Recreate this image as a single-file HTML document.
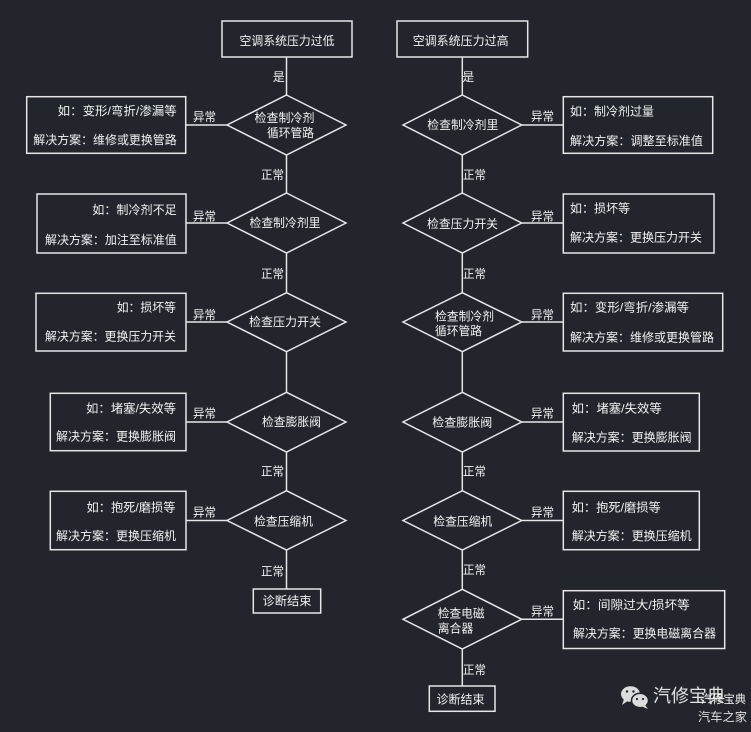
<!DOCTYPE html>
<html>
<head>
<meta charset="utf-8">
<style>
  html,body{margin:0;padding:0;background:#22252c;}
  svg{display:block;}
  text{font-family:"Liberation Sans","Noto Sans CJK SC",sans-serif;font-size:12px;fill:#f2f2f2;dominant-baseline:central;}
</style>
</head>
<body>
<svg width="751" height="732" viewBox="0 0 751 732" xmlns="http://www.w3.org/2000/svg">
  <rect x="0" y="0" width="751" height="732" fill="#22252c"/>

  <g stroke="#e6e6e6" stroke-width="1.5" fill="none">
    <!-- LEFT COLUMN -->
    <rect x="222" y="21" width="130" height="36"/>
    <line x1="286.5" y1="57" x2="286.5" y2="95"/>
    <polygon points="286.5,95 346,125 286.5,155 227,125"/>
    <rect x="26.7" y="96.7" width="159" height="56.6"/>
    <line x1="186" y1="125" x2="227" y2="125"/>
    <line x1="286.5" y1="155" x2="286.5" y2="193"/>

    <polygon points="286.5,193 346,223 286.5,253 227,223"/>
    <rect x="37" y="194" width="149" height="59"/>
    <line x1="186" y1="223" x2="227" y2="223"/>
    <line x1="286.5" y1="253" x2="286.5" y2="292.7"/>

    <polygon points="286.5,292.7 346,322 286.5,351.7 227,322"/>
    <rect x="36" y="293.3" width="150" height="57.7"/>
    <line x1="186" y1="322" x2="227" y2="322"/>
    <line x1="286.5" y1="351.7" x2="286.5" y2="392.3"/>

    <polygon points="286.5,392.3 346,422 286.5,452 227,422"/>
    <rect x="50.3" y="393.3" width="135.7" height="57.4"/>
    <line x1="186" y1="422" x2="227" y2="422"/>
    <line x1="286.5" y1="452" x2="286.5" y2="490.7"/>

    <polygon points="286.5,490.7 346,520.5 286.5,550 227,520.5"/>
    <rect x="50.3" y="491.3" width="135.7" height="58.4"/>
    <line x1="186" y1="520.5" x2="227" y2="520.5"/>
    <line x1="286.5" y1="550" x2="286.5" y2="589"/>
    <rect x="253.3" y="589" width="67.4" height="24"/>

    <!-- RIGHT COLUMN -->
    <rect x="397" y="21" width="130.7" height="36"/>
    <line x1="462.3" y1="57" x2="462.3" y2="95"/>
    <polygon points="462.3,95 521.7,125 462.3,155 403,125"/>
    <rect x="563.3" y="96.7" width="149.4" height="56.6"/>
    <line x1="521.7" y1="125" x2="563.3" y2="125"/>
    <line x1="462.3" y1="155" x2="462.3" y2="193"/>

    <polygon points="462.3,193 521.7,223 462.3,253 403,223"/>
    <rect x="563.3" y="194" width="150.7" height="59"/>
    <line x1="521.7" y1="223" x2="563.3" y2="223"/>
    <line x1="462.3" y1="253" x2="462.3" y2="292.7"/>

    <polygon points="462.3,292.7 521.7,322 462.3,351.7 403,322"/>
    <rect x="563.3" y="293.3" width="159.4" height="57.7"/>
    <line x1="521.7" y1="322" x2="563.3" y2="322"/>
    <line x1="462.3" y1="351.7" x2="462.3" y2="392.3"/>

    <polygon points="462.3,392.3 521.7,422 462.3,452 403,422"/>
    <rect x="563.3" y="393.3" width="136" height="57.7"/>
    <line x1="521.7" y1="422" x2="563.3" y2="422"/>
    <line x1="462.3" y1="452" x2="462.3" y2="490.7"/>

    <polygon points="462.3,490.7 521.7,520.5 462.3,550 403,520.5"/>
    <rect x="563.3" y="491.3" width="136" height="58.4"/>
    <line x1="521.7" y1="520.5" x2="563.3" y2="520.5"/>
    <line x1="462.3" y1="550" x2="462.3" y2="589.3"/>

    <polygon points="462.3,589.3 521.7,619.3 462.3,649 403,619.3"/>
    <rect x="563.3" y="590.7" width="161.4" height="57.8"/>
    <line x1="521.7" y1="619.3" x2="563.3" y2="619.3"/>
    <line x1="462.3" y1="649" x2="462.3" y2="686"/>
    <rect x="429.3" y="686" width="65.7" height="25.3"/>
  </g>

  <!-- LEFT TEXT -->
  <text x="287" y="41" text-anchor="middle" textLength="95" lengthAdjust="spacingAndGlyphs">空调系统压力过低</text>
  <text x="278.7" y="77" text-anchor="middle">是</text>
  <text x="254.5" y="118" textLength="60" lengthAdjust="spacingAndGlyphs">检查制冷剂</text>
  <text x="267" y="133" textLength="47" lengthAdjust="spacingAndGlyphs">循环管路</text>
  <text x="176.7" y="111" text-anchor="end" textLength="119" lengthAdjust="spacingAndGlyphs">如：变形/弯折/渗漏等</text>
  <text x="176.7" y="140" text-anchor="end" textLength="143.4" lengthAdjust="spacingAndGlyphs">解决方案：维修或更换管路</text>
  <text x="204.5" y="117" text-anchor="middle" textLength="23" lengthAdjust="spacingAndGlyphs">异常</text>
  <text x="272.5" y="175" text-anchor="middle" textLength="23" lengthAdjust="spacingAndGlyphs">正常</text>

  <text x="285" y="223" text-anchor="middle" textLength="71" lengthAdjust="spacingAndGlyphs">检查制冷剂里</text>
  <text x="176.7" y="210" text-anchor="end" textLength="84.4" lengthAdjust="spacingAndGlyphs">如：制冷剂不足</text>
  <text x="176.7" y="240" text-anchor="end" textLength="131.7" lengthAdjust="spacingAndGlyphs">解决方案：加注至标准值</text>
  <text x="204.5" y="216.5" text-anchor="middle" textLength="23" lengthAdjust="spacingAndGlyphs">异常</text>
  <text x="272.5" y="274" text-anchor="middle" textLength="23" lengthAdjust="spacingAndGlyphs">正常</text>

  <text x="285" y="322" text-anchor="middle" textLength="72" lengthAdjust="spacingAndGlyphs">检查压力开关</text>
  <text x="176" y="307.3" text-anchor="end" textLength="59.3" lengthAdjust="spacingAndGlyphs">如：损坏等</text>
  <text x="176" y="336.7" text-anchor="end" textLength="131" lengthAdjust="spacingAndGlyphs">解决方案：更换压力开关</text>
  <text x="204.5" y="315" text-anchor="middle" textLength="23" lengthAdjust="spacingAndGlyphs">异常</text>

  <text x="291.5" y="422" text-anchor="middle" textLength="59" lengthAdjust="spacingAndGlyphs">检查膨胀阀</text>
  <text x="176" y="408.3" text-anchor="end" textLength="90" lengthAdjust="spacingAndGlyphs">如：堵塞/失效等</text>
  <text x="176" y="436.7" text-anchor="end" textLength="120" lengthAdjust="spacingAndGlyphs">解决方案：更换膨胀阀</text>
  <text x="204.5" y="413.3" text-anchor="middle" textLength="23" lengthAdjust="spacingAndGlyphs">异常</text>
  <text x="272.5" y="471.7" text-anchor="middle" textLength="23" lengthAdjust="spacingAndGlyphs">正常</text>

  <text x="283.5" y="521.5" text-anchor="middle" textLength="59" lengthAdjust="spacingAndGlyphs">检查压缩机</text>
  <text x="175.5" y="507.3" text-anchor="end" textLength="89" lengthAdjust="spacingAndGlyphs">如：抱死/磨损等</text>
  <text x="176" y="536" text-anchor="end" textLength="120" lengthAdjust="spacingAndGlyphs">解决方案：更换压缩机</text>
  <text x="204.5" y="512.7" text-anchor="middle" textLength="23" lengthAdjust="spacingAndGlyphs">异常</text>
  <text x="272.5" y="571.7" text-anchor="middle" textLength="23" lengthAdjust="spacingAndGlyphs">正常</text>

  <text x="287" y="601" text-anchor="middle" textLength="49" lengthAdjust="spacingAndGlyphs">诊断结束</text>

  <!-- RIGHT TEXT -->
  <text x="460.7" y="41" text-anchor="middle" textLength="96" lengthAdjust="spacingAndGlyphs">空调系统压力过高</text>
  <text x="468.3" y="77" text-anchor="middle">是</text>
  <text x="462.8" y="125" text-anchor="middle" textLength="71" lengthAdjust="spacingAndGlyphs">检查制冷剂里</text>
  <text x="570" y="111.5" textLength="84" lengthAdjust="spacingAndGlyphs">如：制冷剂过量</text>
  <text x="570" y="141" textLength="133" lengthAdjust="spacingAndGlyphs">解决方案：调整至标准值</text>
  <text x="542.5" y="116.7" text-anchor="middle" textLength="23" lengthAdjust="spacingAndGlyphs">异常</text>
  <text x="474.5" y="175" text-anchor="middle" textLength="23" lengthAdjust="spacingAndGlyphs">正常</text>

  <text x="462.5" y="224" text-anchor="middle" textLength="71" lengthAdjust="spacingAndGlyphs">检查压力开关</text>
  <text x="570" y="208.5" textLength="60" lengthAdjust="spacingAndGlyphs">如：损坏等</text>
  <text x="570" y="237.5" textLength="132" lengthAdjust="spacingAndGlyphs">解决方案：更换压力开关</text>
  <text x="542.5" y="216.5" text-anchor="middle" textLength="23" lengthAdjust="spacingAndGlyphs">异常</text>
  <text x="474.5" y="274" text-anchor="middle" textLength="23" lengthAdjust="spacingAndGlyphs">正常</text>

  <text x="435" y="316.7" textLength="59" lengthAdjust="spacingAndGlyphs">检查制冷剂</text>
  <text x="435" y="331" textLength="47" lengthAdjust="spacingAndGlyphs">循环管路</text>
  <text x="570" y="307.3" textLength="119" lengthAdjust="spacingAndGlyphs">如：变形/弯折/渗漏等</text>
  <text x="570" y="337.3" textLength="144" lengthAdjust="spacingAndGlyphs">解决方案：维修或更换管路</text>
  <text x="542.5" y="315" text-anchor="middle" textLength="23" lengthAdjust="spacingAndGlyphs">异常</text>

  <text x="462.3" y="422.3" text-anchor="middle" textLength="60" lengthAdjust="spacingAndGlyphs">检查膨胀阀</text>
  <text x="571.7" y="408.3" textLength="90" lengthAdjust="spacingAndGlyphs">如：堵塞/失效等</text>
  <text x="571.7" y="437.3" textLength="120" lengthAdjust="spacingAndGlyphs">解决方案：更换膨胀阀</text>
  <text x="542.5" y="413.3" text-anchor="middle" textLength="23" lengthAdjust="spacingAndGlyphs">异常</text>
  <text x="474.5" y="471.7" text-anchor="middle" textLength="23" lengthAdjust="spacingAndGlyphs">正常</text>

  <text x="462.8" y="521.5" text-anchor="middle" textLength="59" lengthAdjust="spacingAndGlyphs">检查压缩机</text>
  <text x="571.7" y="507.3" textLength="89" lengthAdjust="spacingAndGlyphs">如：抱死/磨损等</text>
  <text x="571.7" y="536" textLength="120" lengthAdjust="spacingAndGlyphs">解决方案：更换压缩机</text>
  <text x="542.5" y="512.7" text-anchor="middle" textLength="23" lengthAdjust="spacingAndGlyphs">异常</text>
  <text x="474.5" y="570" text-anchor="middle" textLength="23" lengthAdjust="spacingAndGlyphs">正常</text>

  <text x="437.7" y="613.3" textLength="47" lengthAdjust="spacingAndGlyphs">检查电磁</text>
  <text x="437.7" y="628.3" textLength="35.6" lengthAdjust="spacingAndGlyphs">离合器</text>
  <text x="572.7" y="605" textLength="117" lengthAdjust="spacingAndGlyphs">如：间隙过大/损坏等</text>
  <text x="573" y="633.3" textLength="143" lengthAdjust="spacingAndGlyphs">解决方案：更换电磁离合器</text>
  <text x="542.5" y="611.7" text-anchor="middle" textLength="23" lengthAdjust="spacingAndGlyphs">异常</text>
  <text x="474.5" y="670" text-anchor="middle" textLength="23" lengthAdjust="spacingAndGlyphs">正常</text>

  <text x="460.5" y="699.5" text-anchor="middle" textLength="48" lengthAdjust="spacingAndGlyphs">诊断结束</text>

  <!-- WATERMARK -->
  <g>
    <ellipse cx="630.5" cy="694" rx="9.5" ry="7.8" fill="#dcdcdc"/>
    <polygon points="624,699 622,705 629,700" fill="#dcdcdc"/>
    <circle cx="627" cy="691.5" r="1.2" fill="#22252c"/>
    <circle cx="633.5" cy="691.5" r="1.2" fill="#22252c"/>
    <ellipse cx="640" cy="700.5" rx="8.5" ry="7.2" fill="#dcdcdc" stroke="#22252c" stroke-width="1.5"/>
    <polygon points="645,705 648,709 642,706.5" fill="#dcdcdc"/>
    <circle cx="637" cy="699" r="1.1" fill="#22252c"/>
    <circle cx="643" cy="699" r="1.1" fill="#22252c"/>
  </g>
  <text x="653" y="696" style="font-size:18px;fill:#e2e2e2;" textLength="72" lengthAdjust="spacingAndGlyphs">汽修宝典</text>
  <text x="701" y="700" style="font-size:11.5px;fill:#f4f4f4;" textLength="45" lengthAdjust="spacingAndGlyphs">汽修宝典</text>
  <text x="698" y="717" style="font-size:12px;fill:#e0e0e0;" textLength="49" lengthAdjust="spacingAndGlyphs">汽车之家</text>
</svg>
</body>
</html>
